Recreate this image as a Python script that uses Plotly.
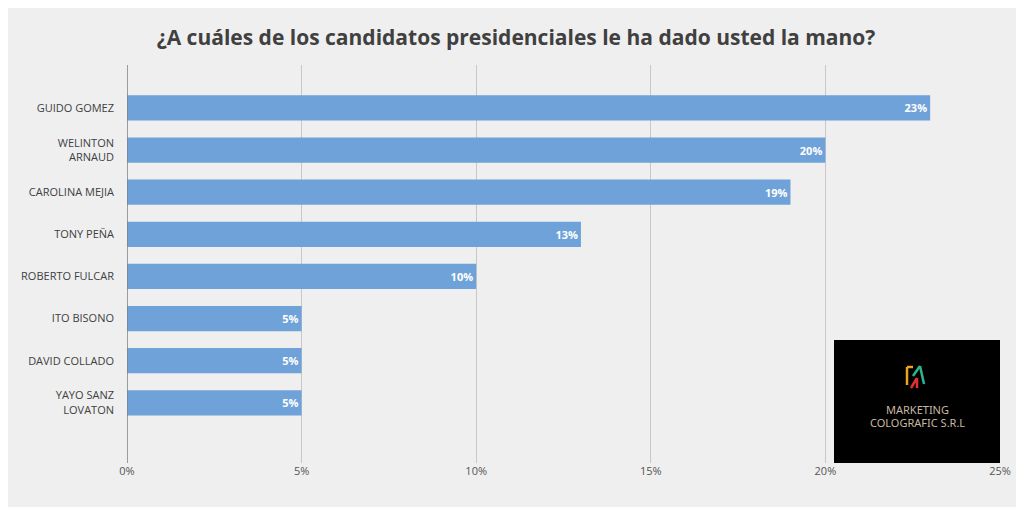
import plotly.graph_objects as go

candidates = ["GUIDO GOMEZ", "WELINTON<br>ARNAUD", "CAROLINA MEJIA", "TONY PEÑA",
              "ROBERTO FULCAR", "ITO BISONO", "DAVID COLLADO", "YAYO SANZ<br>LOVATON"]
values = [23, 20, 19, 13, 10, 5, 5, 5]
ticks = [0, 5, 10, 15, 20, 25]

O = 8  # page offset
W, H = 1024 - O, 507 - O
L, R, T, B = 127 - O, 1000 - O, 65 - O, 463 - O
fig = go.Figure(go.Bar(
    x=values, y=list(range(len(values))), orientation="h",
    marker=dict(color="#6fa2d8", line=dict(width=0)), width=0.6,
    text=[f"<b>{v}%</b>" for v in values], textposition="inside", insidetextanchor="end",
    textfont=dict(color="white", size=11, family="Open Sans"),
    hoverinfo="skip"))
fig.update_layout(
    width=W, height=H, margin=dict(l=L, r=W - R, t=T, b=H - B, autoexpand=False),
    paper_bgcolor="#efefef", plot_bgcolor="rgba(0,0,0,0)", showlegend=False,
    title=dict(text="<b>¿A cuáles de los candidatos presidenciales le ha dado usted la mano?</b>",
               x=0.5, xanchor="center", y=0.955, font=dict(size=21, color="#404040", family="Open Sans")),
    font=dict(family="Open Sans", size=11, color="#404040"),
    xaxis=dict(range=[0, 25], tickvals=ticks, ticktext=[f"{t}%" for t in ticks],
               showgrid=True, gridcolor="#c8c8c8", gridwidth=1, zeroline=False,
               showline=False, ticks="", tickfont=dict(size=11, color="#555")),
    yaxis=dict(range=[8.43, -1.02], tickvals=list(range(len(candidates))), ticktext=candidates,
               showgrid=False, zeroline=False, showline=False, ticks="", ticklabelstandoff=12,
               tickfont=dict(size=11, color="#404040")),
)
fig.add_shape(type="line", xref="x", yref="paper", x0=0, x1=0, y0=0, y1=1,
              line=dict(color="#7f7f7f", width=1.5))
def px(x): return (x - O - L) / (R - L)
def py(y): return (B - (y - O)) / (B - T)
fig.add_shape(type="rect", xref="paper", yref="paper", x0=px(834), x1=1.0,
              y0=0, y1=py(340), fillcolor="black", line=dict(width=0), layer="above")
for (x0, y0, x1, y1, c) in [(907, 367, 907, 385, "#f0a020"), (907, 367, 913, 367, "#f0a020"),
                            (913, 376, 920, 366, "#2fb58a"), (920, 366, 924, 384, "#2fb58a"),
                            (911, 388, 917, 378, "#e03030"), (917, 378, 917, 388, "#e03030")]:
    fig.add_shape(type="line", xref="paper", yref="paper", x0=px(x0), y0=py(y0), x1=px(x1), y1=py(y1),
                  line=dict(color=c, width=2.5), layer="above")
for txt, yy in [("MARKETING", 409), ("COLOGRAFIC S.R.L", 422)]:
    fig.add_annotation(xref="paper", yref="paper", x=px(917), y=py(yy), xanchor="center",
                       yanchor="middle", showarrow=False, text=txt,
                       font=dict(color="#c8b8a0", size=11, family="Noto Sans"))
fig.write_html("out.html")
